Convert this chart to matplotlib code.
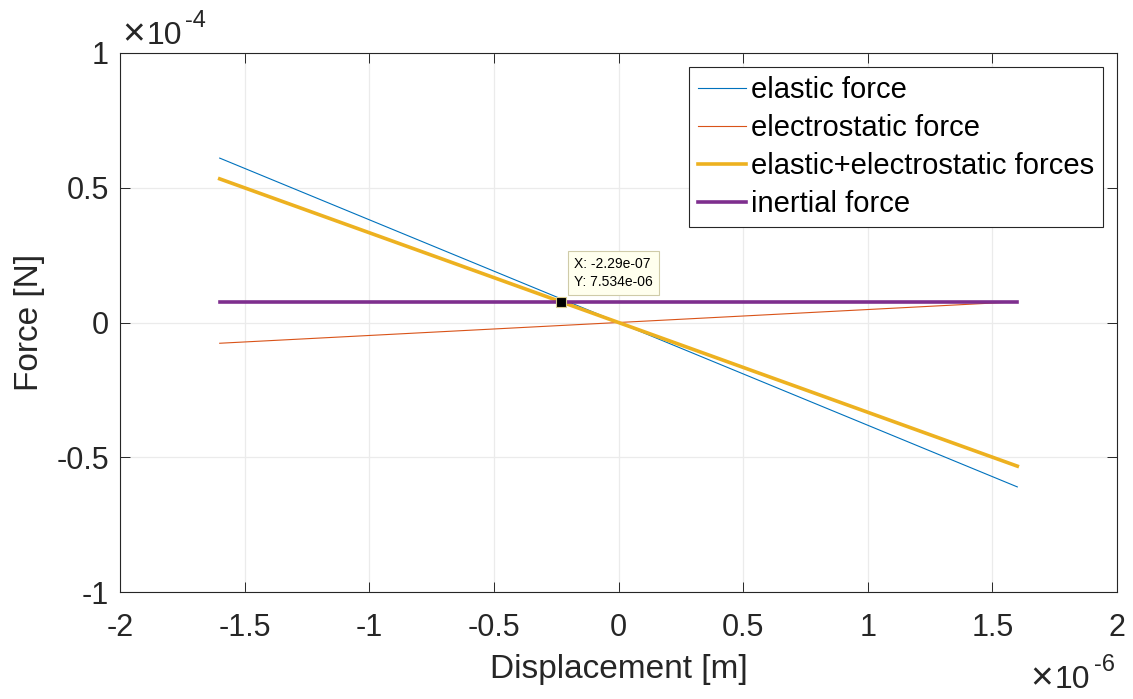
import matplotlib
matplotlib.use("Agg")
import matplotlib.pyplot as plt

# Данные (значения прямых в нескольких точках)
displacement = [-1.6e-6, -0.8e-6, 0.0, 0.8e-6, 1.6e-6]
elastic_force = [6.1e-5, 3.05e-5, 0.0, -3.05e-5, -6.1e-5]
electrostatic_force = [-7.7e-6, -3.85e-6, 0.0, 3.85e-6, 7.7e-6]
total_force = [5.33e-5, 2.665e-5, 0.0, -2.665e-5, -5.33e-5]
inertial_force = [7.534e-6, 7.534e-6, 7.534e-6, 7.534e-6, 7.534e-6]

labels = ["elastic force", "electrostatic force",
          "elastic+electrostatic forces", "inertial force"]

# Точка, отмеченная курсором данных
tip_x = -2.29e-7
tip_y = 7.534e-6

x_ticks = [-2e-6, -1.5e-6, -1e-6, -0.5e-6, 0.0, 0.5e-6, 1e-6, 1.5e-6, 2e-6]
x_tick_labels = ["-2", "-1.5", "-1", "-0.5", "0", "0.5", "1", "1.5", "2"]
y_ticks = [-1e-4, -0.5e-4, 0.0, 0.5e-4, 1e-4]
y_tick_labels = ["-1", "-0.5", "0", "0.5", "1"]

plt.rcParams["font.family"] = ["Liberation Sans", "DejaVu Sans"]

fig = plt.figure(figsize=(11.33, 6.99), dpi=100)
ax = fig.add_axes([120 / 1133, 1 - 592 / 699, 997 / 1133, 539 / 699])

ax.plot(displacement, elastic_force, color="#0072BD", lw=0.8, label=labels[0])
ax.plot(displacement, electrostatic_force, color="#D95319", lw=0.8, label=labels[1])
ax.plot(displacement, total_force, color="#EDB120", lw=2.6, label=labels[2])
ax.plot(displacement, inertial_force, color="#7E2F8E", lw=2.6, label=labels[3])

# Курсор данных
ax.plot([tip_x], [tip_y], "s", color="black", markersize=7.5,
        markeredgecolor="#D8CC90", markeredgewidth=0.8, zorder=5)
ax.annotate(f"X: {tip_x:.3g}\nY: {tip_y:.4g}",
            xy=(tip_x, tip_y), xytext=(13, 13), textcoords="offset pixels",
            ha="left", va="bottom", fontsize=10, color="black", linespacing=1.4,
            bbox=dict(boxstyle="square,pad=0.45", fc="#FFFFEE", ec="#CFCBA8", lw=0.8),
            zorder=6)

ax.set_xlim(-2e-6, 2e-6)
ax.set_ylim(-1e-4, 1e-4)
ax.set_xticks(x_ticks)
ax.set_xticklabels(x_tick_labels)
ax.set_yticks(y_ticks)
ax.set_yticklabels(y_tick_labels)

axis_color = "#262626"
ax.grid(True, color="#EBEBEB", lw=0.9)
ax.set_axisbelow(True)
ax.tick_params(direction="in", length=7.2, width=0.7, colors=axis_color,
               labelsize=22, top=True, right=True, pad=8)
ax.tick_params(axis="x", pad=15)
for spine in ax.spines.values():
    spine.set_color(axis_color)
    spine.set_linewidth(0.8)

ax.set_xlabel("Displacement [m]", fontsize=24, color=axis_color, labelpad=8)
ax.set_ylabel("Force [N]", fontsize=24, color=axis_color, labelpad=8)

# Множители осей в стиле MATLAB
fig.text(122 / 1133, 1 - 45 / 699, "\u00d7", fontsize=28, color=axis_color,
         ha="left", va="baseline")
fig.text(147 / 1133, 1 - 44 / 699, "10", fontsize=23, color=axis_color,
         ha="left", va="baseline")
fig.text(185 / 1133, 1 - 27 / 699, "-4", fontsize=17, color=axis_color,
         ha="left", va="baseline")
fig.text(1030 / 1133, 1 - 689 / 699, "\u00d7", fontsize=28, color=axis_color,
         ha="left", va="baseline")
fig.text(1055 / 1133, 1 - 688 / 699, "10", fontsize=23, color=axis_color,
         ha="left", va="baseline")
fig.text(1094 / 1133, 1 - 671 / 699, "-6", fontsize=17, color=axis_color,
         ha="left", va="baseline")

leg = ax.legend(loc="upper right", fontsize=21, frameon=True, fancybox=False,
                handlelength=1.65, handletextpad=0.18, labelspacing=0.35,
                borderpad=0.3, borderaxespad=0.48)
leg.get_frame().set_edgecolor(axis_color)
leg.get_frame().set_linewidth(0.8)
leg.get_frame().set_alpha(1.0)

fig.savefig("out.png", dpi=100)
